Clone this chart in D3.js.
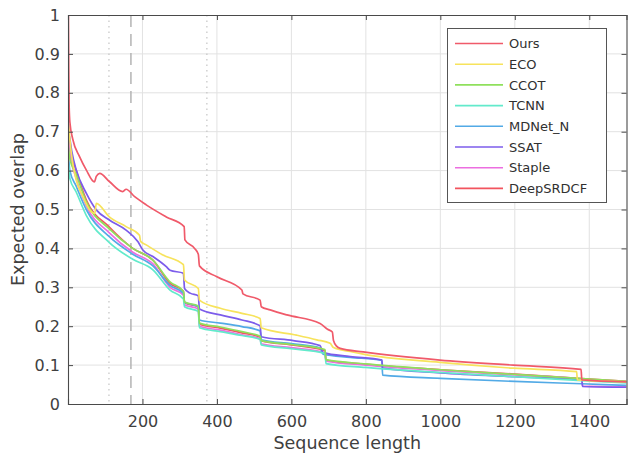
<!DOCTYPE html>
<html>
<head>
<meta charset="utf-8">
<script src="https://cdn.jsdelivr.net/npm/d3@7"></script>
<style>
  html, body { margin: 0; padding: 0; background: #fff; }
  svg { display: block; font-family: "DejaVu Sans", sans-serif; }
</style>
</head>
<body>
<svg id="chart" width="629" height="458"></svg>
<script>
// Expected-overlap curves, one [sequence length, overlap] list per tracker
const ours = [[1,1.0],[2,0.86],[3,0.77],[5,0.725],[13,0.68],[31,0.636],[49,0.602],[71,0.571],[76,0.585],[85,0.593],[111,0.572],[147,0.546],[156,0.552],[179,0.533],[210,0.512],[264,0.481],[312,0.456],[314,0.422],[340,0.40],[350,0.385],[353,0.355],[400,0.327],[467,0.293],[470,0.283],[516,0.267],[519,0.25],[543,0.242],[588,0.229],[677,0.207],[697,0.192],[710,0.185],[713,0.163],[722,0.148],[731,0.143],[793,0.134],[999,0.113],[1196,0.100],[1378,0.089],[1380,0.062],[1500,0.057]];
const eco = [[1,0.72],[5,0.68],[9,0.644],[22,0.576],[40,0.533],[58,0.499],[72,0.49],[76,0.516],[111,0.481],[156,0.456],[192,0.434],[195,0.418],[210,0.409],[255,0.383],[310,0.358],[313,0.319],[350,0.297],[353,0.267],[409,0.246],[467,0.233],[516,0.22],[519,0.196],[614,0.177],[668,0.165],[704,0.156],[713,0.145],[758,0.135],[793,0.128],[999,0.107],[1196,0.092],[1366,0.083],[1368,0.062],[1500,0.057]];
const ccot = [[1,0.66],[5,0.63],[22,0.59],[49,0.52],[111,0.45],[174,0.40],[228,0.37],[274,0.314],[310,0.29],[313,0.262],[350,0.252],[353,0.208],[409,0.198],[467,0.186],[516,0.174],[519,0.163],[600,0.153],[690,0.14],[693,0.114],[800,0.103],[1000,0.088],[1200,0.076],[1380,0.065],[1500,0.058]];
const tcnn = [[1,0.62],[5,0.58],[22,0.545],[49,0.485],[111,0.415],[174,0.372],[228,0.345],[274,0.293],[310,0.27],[313,0.25],[350,0.238],[353,0.196],[409,0.186],[467,0.176],[516,0.166],[519,0.152],[600,0.142],[690,0.13],[693,0.104],[800,0.094],[1000,0.081],[1200,0.07],[1380,0.06],[1500,0.054]];
const mdnet = [[1,0.64],[5,0.60],[22,0.56],[49,0.50],[111,0.43],[174,0.385],[228,0.355],[274,0.305],[310,0.285],[313,0.262],[350,0.25],[353,0.216],[409,0.208],[467,0.199],[516,0.188],[519,0.165],[600,0.155],[677,0.144],[685,0.128],[758,0.12],[843,0.112],[845,0.074],[1000,0.066],[1200,0.058],[1380,0.052],[1500,0.048]];
const ssat = [[1,0.70],[4,0.687],[10,0.65],[22,0.602],[49,0.542],[76,0.499],[111,0.473],[156,0.447],[188,0.417],[201,0.396],[228,0.379],[264,0.353],[274,0.344],[310,0.336],[313,0.297],[328,0.285],[350,0.278],[353,0.244],[409,0.229],[467,0.216],[516,0.201],[519,0.173],[605,0.163],[677,0.150],[685,0.132],[758,0.122],[843,0.113],[845,0.092],[1000,0.080],[1200,0.070],[1380,0.062],[1382,0.045],[1500,0.043]];
const staple = [[1,0.70],[5,0.65],[22,0.58],[49,0.51],[111,0.44],[174,0.39],[228,0.36],[274,0.30],[310,0.28],[313,0.255],[350,0.244],[353,0.20],[409,0.19],[467,0.178],[516,0.168],[519,0.155],[600,0.145],[690,0.132],[693,0.11],[800,0.10],[1000,0.086],[1200,0.075],[1380,0.063],[1382,0.046],[1500,0.044]];
const deepsrdcf = [[1,0.72],[5,0.66],[22,0.60],[49,0.525],[111,0.455],[174,0.40],[228,0.37],[274,0.31],[310,0.29],[313,0.26],[350,0.25],[353,0.205],[409,0.195],[467,0.183],[516,0.172],[519,0.162],[600,0.152],[690,0.138],[693,0.112],[800,0.102],[1000,0.088],[1200,0.077],[1380,0.065],[1500,0.058]];

const trackerNames = ["Ours", "ECO", "CCOT", "TCNN", "MDNet_N", "SSAT", "Staple", "DeepSRDCF"];
const trackerCurves = [ours, eco, ccot, tcnn, mdnet, ssat, staple, deepsrdcf];
const trackerColors = ["#f05a6a", "#f7e35c", "#8fe05c", "#62eacb", "#52aae6", "#7c5ceb", "#ec6ee0", "#f2545e"];
// drawing order (later lines sit on top)
const drawOrder = [7, 6, 4, 5, 3, 2, 1, 0];

const xTicks = [200, 400, 600, 800, 1000, 1200, 1400];
const yTicks = [0, 0.1, 0.2, 0.3, 0.4, 0.5, 0.6, 0.7, 0.8, 0.9, 1];
const dottedMarks = [110, 373];
const dashedMarks = [169];

const svg = d3.select("#chart");
const plotL = 68, plotR = 626.5, plotT = 15, plotB = 404;
const x = d3.scaleLinear().domain([0, 1500]).range([plotL, plotR]);
const y = d3.scaleLinear().domain([0, 1]).range([plotB, plotT]);

// grid
const grid = svg.append("g");
grid.selectAll("line.gx").data(xTicks).join("line")
  .attr("x1", d => x(d)).attr("x2", d => x(d)).attr("y1", plotT).attr("y2", plotB)
  .attr("stroke", "#e2e2e2").attr("stroke-width", 1);
grid.selectAll("line.gy").data(yTicks.slice(1, -1)).join("line")
  .attr("x1", plotL).attr("x2", plotR).attr("y1", d => y(d)).attr("y2", d => y(d))
  .attr("stroke", "#e2e2e2").attr("stroke-width", 1);

// sequence-length range markers
svg.append("g").selectAll("line").data(dottedMarks).join("line")
  .attr("x1", d => x(d)).attr("x2", d => x(d)).attr("y1", plotT).attr("y2", plotB)
  .attr("stroke", "#c4c4c4").attr("stroke-width", 1.2).attr("stroke-dasharray", "1.5,4");
svg.append("g").selectAll("line").data(dashedMarks).join("line")
  .attr("x1", d => x(d)).attr("x2", d => x(d)).attr("y1", plotT).attr("y2", plotB)
  .attr("stroke", "#b4b4b4").attr("stroke-width", 1.5).attr("stroke-dasharray", "12,7");

// curves
svg.append("clipPath").attr("id", "plotclip").append("rect")
  .attr("x", plotL).attr("y", plotT - 1).attr("width", plotR - plotL).attr("height", plotB - plotT + 1);
const line = d3.line().x(d => x(d[0])).y(d => y(d[1])).curve(d3.curveMonotoneX);
const curves = svg.append("g").attr("clip-path", "url(#plotclip)");
drawOrder.forEach(i => {
  curves.append("path").datum(trackerCurves[i])
    .attr("d", line).attr("fill", "none")
    .attr("stroke", trackerColors[i]).attr("stroke-width", 1.7)
    .attr("stroke-linejoin", "round");
});

// axes with inward ticks on all four sides
const axisColor = "#4a4a4a";
const tl = 5;
const xB = svg.append("g").attr("transform", `translate(0,${plotB})`)
  .call(d3.axisBottom(x).tickValues(xTicks).tickSize(-tl).tickPadding(12).tickFormat(d3.format("d")));
const xT = svg.append("g").attr("transform", `translate(0,${plotT})`)
  .call(d3.axisTop(x).tickValues(xTicks).tickSize(-tl).tickFormat(""));
const yL = svg.append("g").attr("transform", `translate(${plotL},0)`)
  .call(d3.axisLeft(y).tickValues(yTicks).tickSize(-tl).tickPadding(8).tickFormat(d => String(+d.toFixed(1))));
const yR = svg.append("g").attr("transform", `translate(${plotR},0)`)
  .call(d3.axisRight(y).tickValues(yTicks).tickSize(-tl).tickFormat(""));
[xB, xT, yL, yR].forEach(g => {
  g.select(".domain").attr("stroke", axisColor).attr("stroke-width", 1.1);
  g.selectAll(".tick line").attr("stroke", axisColor);
  g.selectAll(".tick text").attr("fill", "#404040").style("font-size", "16px")
    .style("font-family", "'DejaVu Sans', sans-serif");
});
yL.selectAll(".tick").filter(d => d === 0 || d === 1).select("line").remove();
yR.selectAll(".tick").filter(d => d === 0 || d === 1).select("line").remove();

// axis titles
svg.append("text").attr("x", (plotL + plotR) / 2).attr("y", 449)
  .attr("text-anchor", "middle").attr("fill", "#404040").style("font-size", "17.5px")
  .text("Sequence length");
svg.append("text").attr("transform", `translate(24,${(plotT + plotB) / 2}) rotate(-90)`)
  .attr("text-anchor", "middle").attr("fill", "#404040").style("font-size", "17.5px")
  .text("Expected overlap");

// legend
const lg = svg.append("g");
lg.append("rect").attr("x", 447.5).attr("y", 28.5).attr("width", 159).attr("height", 174)
  .attr("fill", "#fff").attr("stroke", "#555").attr("stroke-width", 1);
trackerNames.forEach((name, i) => {
  const cy = 43.5 + i * 20.7;
  lg.append("line").attr("x1", 455).attr("x2", 503).attr("y1", cy).attr("y2", cy)
    .attr("stroke", trackerColors[i]).attr("stroke-width", 1.6);
  lg.append("text").attr("x", 509).attr("y", cy).attr("dy", "0.36em")
    .attr("fill", "#303030").style("font-size", "13px").text(name);
});
</script>
</body>
</html>
